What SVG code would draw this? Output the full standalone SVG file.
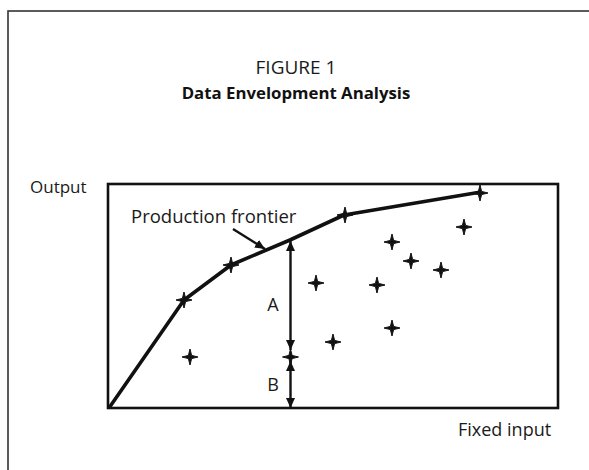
<svg xmlns="http://www.w3.org/2000/svg" width="589" height="470" viewBox="0 0 589 470">
  <defs>
    <style>
      .txt { font-family: "Open Sans", "Noto Sans", "Liberation Sans", sans-serif; fill: #1a1a1a; }
      .ttl { font-family: "Open Sans", "Noto Sans", "Liberation Sans", sans-serif; font-weight: bold; fill: #111; }
      .frame { fill: none; stroke: #333; stroke-width: 1.6; }
      .box { fill: none; stroke: #111; stroke-width: 2.6; }
      .frontier { fill: none; stroke: #111; stroke-width: 3.6; stroke-linejoin: round; }
      .dim { fill: none; stroke: #111; stroke-width: 2.4; }
      .star { fill: #111; stroke: #111; stroke-width: 1; stroke-linejoin: round; }
    </style>
    <path id="star" d="M0,-8 L1.6,-1.6 L8,0 L1.6,1.6 L0,8 L-1.6,1.6 L-8,0 L-1.6,-1.6Z"/>
    <marker id="ah" viewBox="0 0 10 10" refX="10" refY="5" markerWidth="10" markerHeight="10" markerUnits="userSpaceOnUse" orient="auto-start-reverse">
      <path d="M0,0.5 L10,5 L0,9.5Z" fill="#111"/>
    </marker>
  </defs>

  <rect id="outer-frame" class="frame" x="8" y="11" width="600" height="480"/>

  <g id="title">
    <text class="txt" x="296" y="74" font-size="19" text-anchor="middle">FIGURE 1</text>
    <text class="ttl" x="296" y="99" font-size="16.8" text-anchor="middle">Data Envelopment Analysis</text>
  </g>

  <g id="axes">
    <rect class="box" x="108" y="184" width="450" height="224"/>
    <text class="txt" x="30" y="193" font-size="17">Output</text>
    <text class="txt" x="458" y="436" font-size="18">Fixed input</text>
  </g>

  <g id="connectors">
    <polyline id="frontier-line" class="frontier" points="109,408 184,300 231,265 290,240 344,215 481,192"/>
    <line id="frontier-pointer" class="dim" x1="233" y1="229" x2="265" y2="249" marker-end="url(#ah)"/>
    <line id="arrow-A" class="dim" x1="290.5" y1="241" x2="290.5" y2="350" marker-start="url(#ah)" marker-end="url(#ah)"/>
    <line id="arrow-B" class="dim" x1="290.5" y1="361" x2="290.5" y2="408" marker-start="url(#ah)" marker-end="url(#ah)"/>
  </g>

  <g id="labels">
    <text class="txt" x="131" y="223" font-size="18.5">Production frontier</text>
    <text class="txt" x="273" y="311" font-size="18" text-anchor="middle">A</text>
    <text class="txt" x="273" y="391" font-size="18" text-anchor="middle">B</text>
  </g>

  <g id="frontier-points">
    <use href="#star" class="star" x="184" y="300"/>
    <use href="#star" class="star" x="231" y="265"/>
    <use href="#star" class="star" x="345" y="215"/>
    <use href="#star" class="star" x="480" y="193"/>
  </g>

  <g id="data-points">
    <use href="#star" class="star" x="190" y="357"/>
    <use href="#star" class="star" x="290.5" y="357"/>
    <use href="#star" class="star" x="316" y="283"/>
    <use href="#star" class="star" x="333" y="342"/>
    <use href="#star" class="star" x="377" y="285"/>
    <use href="#star" class="star" x="392" y="242"/>
    <use href="#star" class="star" x="392" y="328"/>
    <use href="#star" class="star" x="411" y="261"/>
    <use href="#star" class="star" x="441" y="270"/>
    <use href="#star" class="star" x="464" y="227"/>
  </g>
</svg>
